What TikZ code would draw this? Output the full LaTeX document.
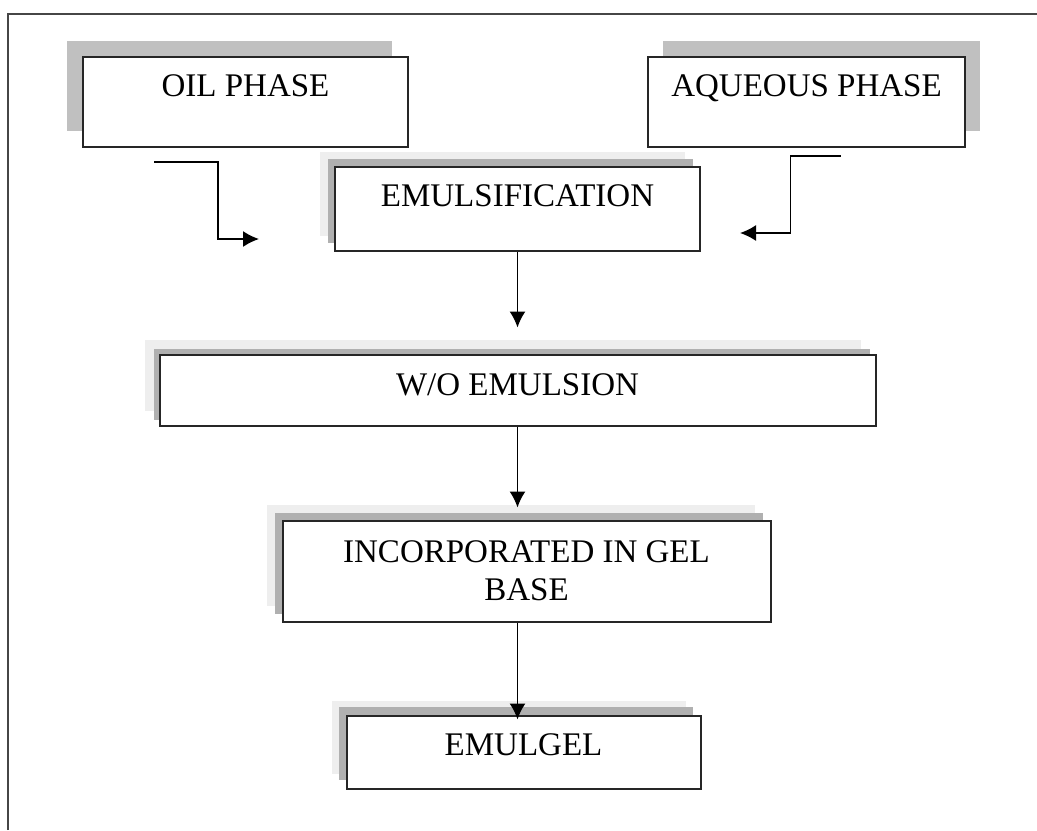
\documentclass[tikz,border=0pt]{standalone}
\usepackage{fontspec}
\setmainfont{Liberation Serif}
\usetikzlibrary{arrows.meta, positioning, shadows}
\definecolor{lightshadow}{RGB}{192,192,192}
\definecolor{darkshadow}{RGB}{176,176,176}
\definecolor{halogray}{RGB}{238,238,238}
\definecolor{framegray}{RGB}{70,70,70}
\tikzset{
  boxshadow/.style args={#1 and #2 in #3}{
    drop shadow={shadow xshift=#1, shadow yshift=#2, fill=#3, opacity=1},
  },
  box/.style  = {draw=black!85, line width=1pt, rectangle, fill=white, inner sep=0pt, font=\fontsize{16.5}{19}\selectfont},
  myarrow/.style = {-{Latex[length=8pt, width=8pt]}, line width=0.8pt},
}

\begin{document}
\begin{tikzpicture}[x=0.5pt, y=-0.5pt, node distance=90.5pt]
    \useasboundingbox (0,0) rectangle (1037,830);
    \draw [framegray, line width=1.2pt] (8,830) -- (8,14) -- (1037,14);

    \node (n00) [box, minimum width=162.5pt, text height=19.5pt, text depth=25.5pt, boxshadow={-8pt and 8pt in lightshadow}] at (245.5,102) {OIL PHASE};
    \node (n01) [box, minimum width=158.5pt, text height=19.5pt, text depth=25.5pt, boxshadow={7.5pt and 8pt in lightshadow}, node distance=280.5pt, right of=n00] {AQUEOUS PHASE};
    \node (n10) [box, minimum width=182.5pt, text height=19.5pt, text depth=22.5pt, boxshadow={-7.5pt and 7.5pt in halogray}, boxshadow={-3.5pt and 4pt in darkshadow}, node distance=53.5pt, below of=n00, xshift=136pt] {EMULSIFICATION};
    \node (n20) [box, minimum width=358pt, text height=20.5pt, text depth=15pt, boxshadow={-7.5pt and 7.5pt in halogray}, boxshadow={-3pt and 3pt in darkshadow}, below of=n10] {W/O EMULSION};
    \node (n30) [box, minimum width=244pt, minimum height=50.5pt, align=center, boxshadow={-8pt and 8pt in halogray}, boxshadow={-4pt and 4pt in darkshadow}, below of=n20, xshift=4.5pt] {INCORPORATED IN GEL\\BASE};
    \node (n40) [box, minimum width=177pt, text height=20pt, text depth=16.5pt, boxshadow={-7.5pt and 7.5pt in halogray}, boxshadow={-4pt and 4.5pt in darkshadow}, below of=n30, xshift=-1.5pt] {EMULGEL};

    % side inputs
    \coordinate (oilout) at ([xshift=36pt, yshift=-7pt]n00.south west);
    \coordinate (oilin) at ([xshift=-37.5pt, yshift=-15pt]n10.west);
    \coordinate (aqout) at ([xshift=17pt, yshift=-4pt]n01.south);
    \coordinate (aqin) at ([xshift=19.5pt, yshift=-12pt]n10.east);
    \draw [myarrow] (oilout) -- ++(32pt,0) |- (oilin);
    \draw [myarrow] (aqout) -- ++(-25pt,0) |- (aqin);

    \draw [myarrow, shorten >=13pt] (n10.south) -- (n10.south |- n20.north);
    \draw [myarrow, shorten >=6pt] (n20.south) -- (n20.south |- n30.north);
    \draw [myarrow, shorten >=-2.5pt] (n30.south -| n20.south) -- (n20.south |- n40.north);
\end{tikzpicture}
\end{document}
